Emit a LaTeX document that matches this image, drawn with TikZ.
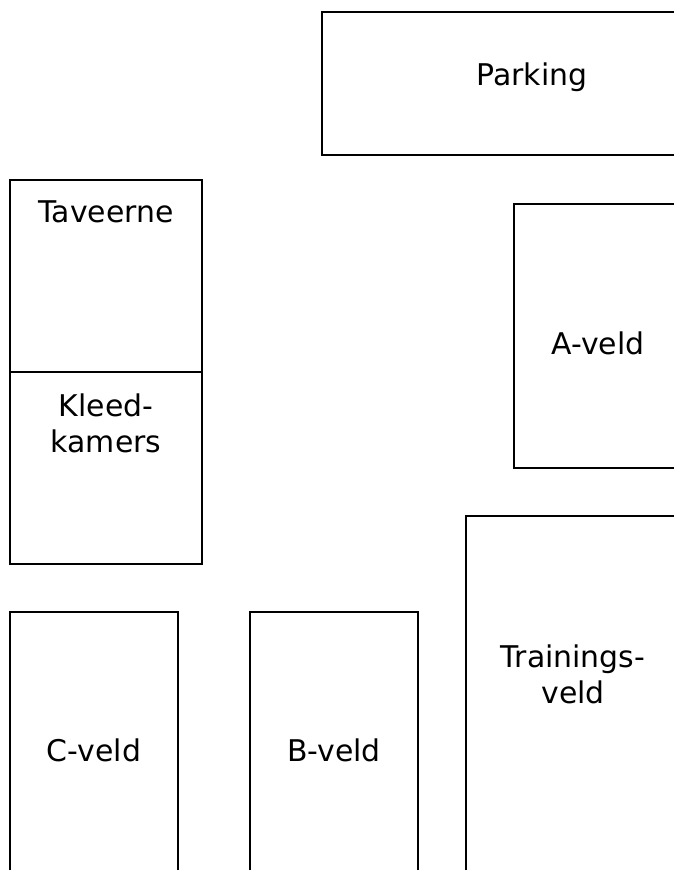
\documentclass[tikz,border=0pt]{standalone}
\usepackage{fontspec}
\setmainfont{DejaVu Sans}
\begin{document}
\begin{tikzpicture}[x=1bp,y=-1bp,
  area/.style={draw=black,line width=1.8bp},
  lbl/.style={font=\fontsize{30}{36}\selectfont,align=center,inner sep=0pt}]
\useasboundingbox (0,0) rectangle (674,870);
\clip (0,0) rectangle (674,870);
\draw[area] (322,12) rectangle (742,155);
\node[lbl] (parking) at (532,77) {Parking};
\draw[area] (10,180) rectangle (202,564);
\draw[area] (10,372) -- (202,372);
\node[lbl] (taveerne) at (106,212) {Taveerne};
\node[lbl] (kleed) at (106,423) {Kleed-\\kamers};
\draw[area] (514,204) rectangle (682,468);
\node[lbl] (aveld) at (598,343) {A-veld};
\draw[area] (466,516) rectangle (680,900);
\node[lbl] (train) at (573,674) {Trainings-\\veld};
\draw[area] (10,612) rectangle (178,900);
\node[lbl] (cveld) at (94,750) {C-veld};
\draw[area] (250,612) rectangle (418,900);
\node[lbl] (bveld) at (334,750) {B-veld};
\end{tikzpicture}
\end{document}
